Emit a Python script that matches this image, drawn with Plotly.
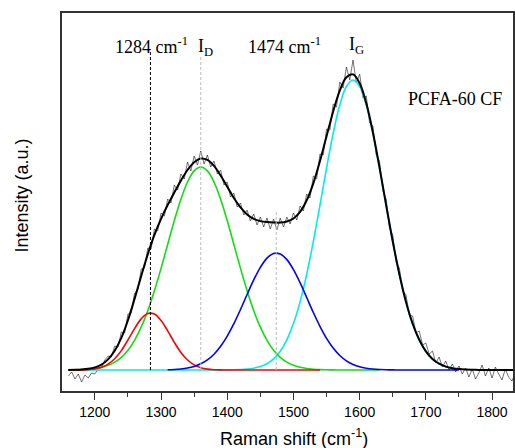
import numpy as np
import plotly.graph_objects as go

# ---- data (intensity in arbitrary units) ----
wn = list(range(1160, 1841, 10))  # component grid, cm-1

red = [0, 0.04, 0.14, 0.42, 1.1, 2.7, 5.9, 11.3, 19.4, 30.0, 41.4, 51.1, 56.5, 55.9, 49.4, 39.2,
       27.7, 17.6, 10.0, 5.1, 2.3, 0.9, 0.3, 0.1, 0, 0, 0, 0, 0, 0, 0, 0, 0, 0, 0, 0, 0, 0, 0, 0,
       0, 0, 0, 0, 0, 0, 0, 0, 0, 0, 0, 0, 0, 0, 0, 0, 0, 0, 0, 0, 0, 0, 0, 0, 0, 0, 0, 0, 0]
green = [0.09, 0.2, 0.4, 0.79, 1.5, 2.7, 4.7, 7.9, 12.7, 19.8, 29.7, 42.8, 59.3, 79.2, 101.6, 125.5,
         149.2, 170.7, 188.0, 199.1, 203.0, 199.1, 188.0, 170.7, 149.2, 125.5, 101.6, 79.2, 59.3, 42.8,
         29.7, 19.8, 12.7, 7.9, 4.7, 2.7, 1.5, 0.8, 0.4, 0.2, 0.09, 0, 0, 0, 0, 0, 0, 0, 0, 0, 0, 0,
         0, 0, 0, 0, 0, 0, 0, 0, 0, 0, 0, 0, 0, 0, 0, 0, 0]
blue = [0, 0, 0, 0, 0, 0, 0, 0, 0, 0, 0, 0, 0, 0.05, 0.12, 0.27, 0.55, 1.07, 2.0, 3.6, 6.2, 10.1,
        15.8, 23.7, 33.9, 46.3, 60.5, 75.5, 90.1, 102.7, 111.9, 116.6, 116.0, 110.4, 100.4, 87.3,
        72.5, 57.5, 43.7, 31.6, 21.9, 14.5, 9.2, 5.6, 3.2, 1.78, 0.94, 0.47, 0.23, 0.1, 0.05, 0, 0,
        0, 0, 0, 0, 0, 0, 0, 0, 0, 0, 0, 0, 0, 0, 0, 0]
cyan = [0, 0, 0, 0, 0, 0, 0, 0, 0, 0, 0, 0, 0, 0, 0, 0, 0, 0, 0, 0, 0, 0, 0, 0, 0.08, 0.19, 0.42,
        0.88, 1.8, 3.4, 6.3, 11.1, 18.7, 30.2, 46.4, 68.1, 95.7, 128.4, 164.7, 201.9, 236.6, 264.9,
        283.5, 290.0, 283.5, 264.9, 236.6, 201.9, 164.7, 128.4, 95.7, 68.1, 46.4, 30.2, 18.7, 11.1,
        6.3, 3.4, 1.8, 0.9, 0.4, 0.2, 0.08, 0, 0, 0, 0, 0, 0]

raw_wn = list(range(1160, 1836, 5))
raw = [-6, -2, -9, -4, -12, -5, -8, -3, -4, 1, 2, 10, 14, 13, 24, 23, 38, 37, 56, 57, 77, 80, 101,
       102, 122, 121, 141, 139, 157, 154, 171, 167, 185, 180, 196, 191, 208, 199, 214, 205, 219,
       206, 215, 203, 209, 196, 200, 185, 188, 173, 177, 163, 167, 155, 160, 149, 156, 145, 153,
       143, 152, 141, 151, 140, 152, 143, 153, 146, 157, 150, 164, 159, 176, 172, 194, 191, 216,
       215, 241, 240, 266, 263, 288, 282, 303, 290, 310, 287, 296, 272, 274, 247, 244, 215, 209,
       179, 171, 142, 135, 108, 102, 79, 75, 55, 54, 37, 39, 25, 27, 16, 19, 7, 13, 3, 9, 0, 6, -2,
       4, -4, 2, -7, 1, -9, -3, 5, -6, 2, -8, 3, -4, -10, 1, -7, -11, -3]

peak_pos = [1284, 1360, 1474, 1590]
peak_text = ["1284 cm<sup>-1</sup>", "I<sub>D</sub>", "1474 cm<sup>-1</sup>", "I<sub>G</sub>"]
sample_label = "PCFA-60 CF"
x_ticks = [1200, 1300, 1400, 1500, 1600, 1700, 1800]

# ---- build ----
wn_a = np.array(wn, dtype=float)
comps = {"red": np.array(red), "green": np.array(green), "blue": np.array(blue), "cyan": np.array(cyan)}
fit = comps["red"] + comps["green"] + comps["blue"] + comps["cyan"]

fig = go.Figure()

fig.add_trace(go.Scatter(x=raw_wn, y=raw, mode="lines",
                         line=dict(color="rgba(20,20,20,0.85)", width=0.7), hoverinfo="skip"))

spans = {"cyan": (1160, 1750), "green": (1160, 1630), "red": (1160, 1540), "blue": (1310, 1750)}
colors = {"cyan": "#00ecec", "green": "#11dd11", "red": "#ff0000", "blue": "#0000ff"}
for name in ["cyan", "green", "red", "blue"]:
    lo, hi = spans[name]
    m = (wn_a >= lo) & (wn_a <= hi)
    fig.add_trace(go.Scatter(x=wn_a[m], y=comps[name][m], mode="lines", line_shape="spline",
                             line=dict(color=colors[name], width=1.6), hoverinfo="skip"))

fig.add_trace(go.Scatter(x=wn_a, y=fit, mode="lines", line_shape="spline",
                         line=dict(color="black", width=2), hoverinfo="skip"))

# vertical marker lines
fig.add_shape(type="line", x0=peak_pos[0], x1=peak_pos[0], y0=0, y1=318,
              line=dict(color="black", width=1, dash="3px,2px"))
fig.add_shape(type="line", x0=peak_pos[1], x1=peak_pos[1], y0=0, y1=315,
              line=dict(color="#bbbbbb", width=1, dash="3px,2px"))
fig.add_shape(type="line", x0=peak_pos[2], x1=peak_pos[2], y0=0, y1=160,
              line=dict(color="#bbbbbb", width=1, dash="3px,2px"))

serif = dict(family="Liberation Serif, Times New Roman, serif", size=18, color="black")
ann_x = [1285, 1367, 1486, 1595]
ann_y = [325, 323, 325, 325]
for t, ax, ay in zip(peak_text, ann_x, ann_y):
    fig.add_annotation(x=ax, y=ay, text=t, showarrow=False, font=serif,
                       xanchor="center", yanchor="middle")
fig.add_annotation(x=1744, y=271, text=sample_label, showarrow=False, font=serif,
                   xanchor="center", yanchor="middle")

sans = "Liberation Sans, Arial, sans-serif"
fig.add_annotation(xref="paper", yref="paper", x=0.514, y=-0.122, text="Raman shift (cm<sup>-1</sup>)",
                   showarrow=False, font=dict(family=sans, size=18, color="black"),
                   xanchor="center", yanchor="middle")
fig.add_annotation(xref="paper", yref="paper", x=-0.088, y=0.518, text="Intensity (a.u.)",
                   showarrow=False, textangle=-90, font=dict(family=sans, size=18, color="black"),
                   xanchor="center", yanchor="middle")

fig.update_layout(
    width=515, height=448, margin=dict(l=62, r=0, t=13, b=57),
    paper_bgcolor="white", plot_bgcolor="white", showlegend=False,
    xaxis=dict(range=[1150.4, 1831.6], tickvals=x_ticks, ticks="outside", ticklen=7, tickwidth=1.3,
               tickcolor="#333", showline=True, linecolor="#333", linewidth=1.5, mirror=True,
               showgrid=False, zeroline=False,
               tickfont=dict(family=sans, size=14, color="black"),
               minor=dict(dtick=50, tick0=1150, ticks="outside", ticklen=4, tickcolor="#333", tickwidth=1.2)),
    yaxis=dict(range=[-21, 357], showticklabels=False, ticks="", showline=True, linecolor="#333",
               linewidth=1.5, mirror=True, showgrid=False, zeroline=False),
)

fig.write_html("out.html")
